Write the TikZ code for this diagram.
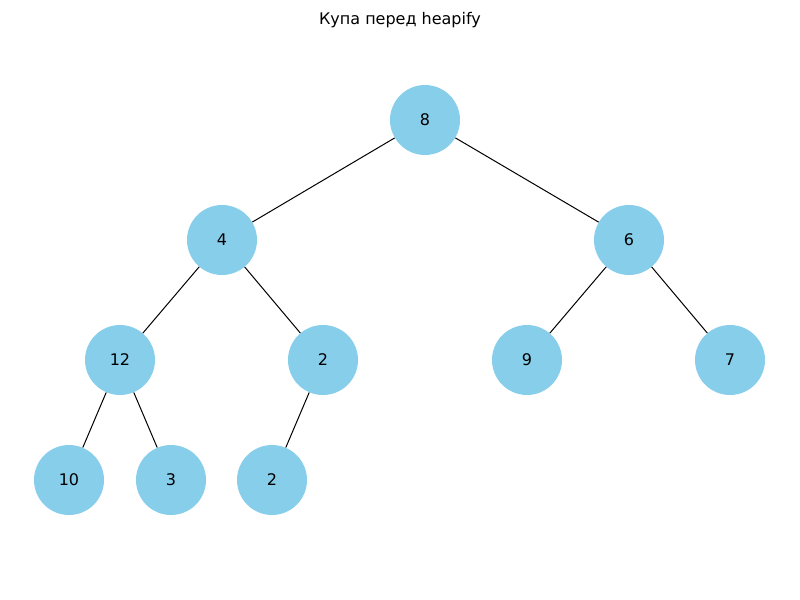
\documentclass[tikz,border=0pt]{standalone}
\usepackage{fontspec}
\setmainfont{DejaVu Sans}
\definecolor{skyblue}{HTML}{87CEEB}
\begin{document}
\begin{tikzpicture}[x=0.75pt,y=-0.75pt,
  hnode/.style={circle,fill=skyblue,minimum size=52.5pt,inner sep=0pt,font=\fontsize{12}{14}\selectfont},
  edge/.style={draw=black,line width=0.75pt}]
\useasboundingbox (0,0) rectangle (800,600);
\node[font=\fontsize{12}{14}\selectfont] (title) at (400,20) {Купа перед heapify};
\node[hnode] (n8) at (425,120) {8};
\node[hnode] (n4) at (222,240) {4};
\node[hnode] (n6) at (629,240) {6};
\node[hnode] (n12) at (120,360) {12};
\node[hnode] (n2a) at (323,360) {2};
\node[hnode] (n9) at (527,360) {9};
\node[hnode] (n7) at (730,360) {7};
\node[hnode] (n10) at (69,480) {10};
\node[hnode] (n3) at (171,480) {3};
\node[hnode] (n2b) at (272,480) {2};
\draw[edge] (n8) -- (n4);
\draw[edge] (n8) -- (n6);
\draw[edge] (n4) -- (n12);
\draw[edge] (n4) -- (n2a);
\draw[edge] (n6) -- (n9);
\draw[edge] (n6) -- (n7);
\draw[edge] (n12) -- (n10);
\draw[edge] (n12) -- (n3);
\draw[edge] (n2a) -- (n2b);
\end{tikzpicture}
\end{document}
